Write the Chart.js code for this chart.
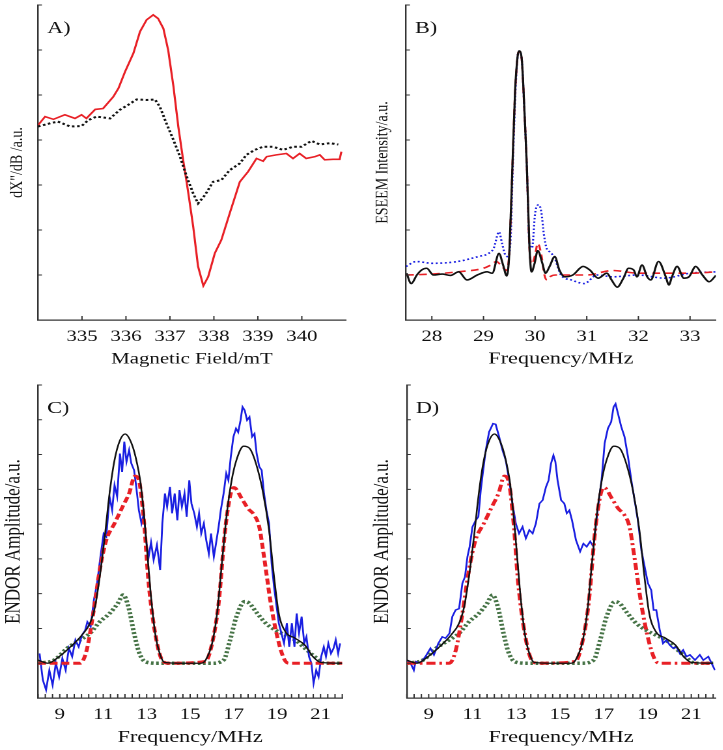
<!DOCTYPE html>
<html>
<head>
<meta charset="utf-8">
<script src="https://cdn.jsdelivr.net/npm/chart.js@4.4.1/dist/chart.umd.min.js"></script>
<style>
  body { margin: 0; background: #fff; }
  #page { position: relative; width: 723px; height: 750px; overflow: hidden; }
  .panel { position: absolute; transform: scaleX(1.3); transform-origin: 0 0; }
</style>
</head>
<body>
<div id="page">
  <div class="panel" style="left:0px;top:0px;width:278.5px;height:370px"><canvas id="chartA"></canvas></div>
  <div class="panel" style="left:362px;top:0px;width:277.7px;height:370px"><canvas id="chartB"></canvas></div>
  <div class="panel" style="left:0px;top:370px;width:278.5px;height:380px"><canvas id="chartC"></canvas></div>
  <div class="panel" style="left:362px;top:370px;width:277.7px;height:380px"><canvas id="chartD"></canvas></div>
</div>
<script>
// ---- A) EPR derivative spectra (field in mT)
var aRedField = [334.0,334.16,334.35,334.61,334.84,334.99,335.1,335.3,335.48,335.71,335.83,335.98,336.17,336.32,336.47,336.62,336.73,336.85,336.96,337.08,337.19,337.3,337.42,337.53,337.64,337.76,337.87,338.02,338.17,338.36,338.59,338.78,338.97,339.12,339.2,339.42,339.65,339.8,339.95,340.1,340.3,340.41,340.52,340.71,340.86,340.9];
var aRedVal = [4.33,4.52,4.46,4.56,4.48,4.56,4.48,4.68,4.70,4.96,5.15,5.52,5.93,6.41,6.67,6.78,6.70,6.48,6.0,5.19,4.30,3.56,2.81,2.07,1.19,0.76,0.96,1.48,1.78,2.37,3.07,3.30,3.59,3.53,3.63,3.67,3.70,3.59,3.70,3.59,3.63,3.67,3.56,3.57,3.57,3.74];
var aBlackField = [334.0,334.27,334.45,334.73,334.99,335.14,335.33,335.64,335.86,336.05,336.24,336.47,336.66,336.77,336.92,337.08,337.23,337.38,337.53,337.64,337.8,337.98,338.17,338.36,338.59,338.74,338.93,339.12,339.35,339.57,339.8,339.99,340.22,340.41,340.64,340.83];
var aBlackVal = [4.30,4.37,4.41,4.30,4.31,4.44,4.52,4.48,4.67,4.78,4.90,4.89,4.90,4.74,4.37,4.0,3.63,3.19,2.81,2.59,2.78,3.07,3.11,3.33,3.48,3.67,3.78,3.85,3.85,3.78,3.85,3.85,3.98,3.90,3.93,3.90];
var aTicks = [335, 336, 337, 338, 339, 340];

// ---- B) ESEEM spectra (MHz)
var bBlackFreq = [27.51,27.6,27.71,27.8,27.9,28.03,28.2,28.36,28.52,28.68,28.88,29.07,29.17,29.3,29.38,29.45,29.5,29.56,29.61,29.66,29.69,29.74,29.79,29.84,29.89,29.93,29.99,30.05,30.14,30.2,30.28,30.38,30.47,30.57,30.73,30.93,31.06,31.22,31.39,31.48,31.59,31.71,31.81,31.91,31.97,32.07,32.17,32.24,32.39,32.53,32.59,32.65,32.75,32.88,32.98,33.11,33.24,33.37,33.5];
var bBlackVal = [1.04,0.81,1.0,1.11,1.15,1.0,1.02,0.99,1.07,0.89,1.0,1.07,1.04,1.48,1.22,0.98,1.48,3.41,5.04,5.85,5.98,5.81,4.74,3.41,1.63,1.07,1.26,1.54,1.26,1.04,1.19,1.41,1.11,0.96,1.0,1.19,1.11,0.93,1.04,0.89,0.73,0.93,1.15,1.11,0.96,1.22,0.96,0.89,1.30,0.96,0.78,0.96,1.19,0.93,0.96,1.19,1.0,0.85,0.99];
var bRedFreq = [27.5,28.0,28.5,29.0,29.14,29.25,29.35,29.45,29.5,29.56,29.61,29.66,29.69,29.74,29.79,29.84,29.89,29.94,30.0,30.05,30.12,30.18,30.23,30.3,30.4,30.6,31.0,31.5,32.0,32.5,33.0,33.5];
var bRedVal = [1.0,1.02,1.07,1.15,1.22,1.3,1.2,1.1,1.5,3.4,5.0,5.85,5.97,5.8,4.7,3.4,1.6,1.25,1.45,1.70,1.45,1.0,0.89,0.97,1.0,1.0,1.0,1.1,1.04,1.04,1.04,1.07];
var bBlueFreq = [27.5,27.7,28.0,28.5,28.9,29.1,29.2,29.3,29.36,29.42,29.47,29.52,29.57,29.62,29.66,29.69,29.74,29.79,29.84,29.89,29.94,30.0,30.07,30.12,30.17,30.22,30.3,30.38,30.5,30.7,30.95,31.2,31.5,32.0,32.5,33.0,33.5];
var bBlueVal = [1.19,1.30,1.26,1.30,1.41,1.48,1.6,1.96,1.7,1.45,1.41,1.7,3.5,5.1,5.85,5.97,5.8,4.7,3.4,1.7,1.6,2.37,2.56,2.4,1.9,1.6,1.5,1.37,1.0,0.89,0.81,1.0,0.96,1.0,0.93,1.04,1.07];
var bTicks = [28, 29, 30, 31, 32, 33];

// ---- C) and D) ENDOR: simulations (shared) and experiments
var simBlackFreq = [8.0,8.45,8.97,9.49,10.02,10.39,10.62,10.84,11.07,11.29,11.52,11.77,12.01,12.27,12.49,12.72,12.94,13.17,13.39,13.62,13.84,14.5,15.5,15.71,16.01,16.24,16.46,16.69,16.91,17.13,17.46,17.73,18.03,18.33,18.63,18.86,19.08,19.38,19.83,20.28,20.65,21.03,22.0];
var simBlackVal = [1.09,1.0,1.19,1.47,1.81,2.15,2.62,3.49,4.64,5.88,6.84,7.41,7.59,7.37,6.93,6.17,4.83,3.10,1.86,1.24,1.02,1.0,1.0,1.09,1.57,2.43,3.87,5.31,6.26,6.84,7.24,7.18,6.74,5.98,4.83,3.49,2.43,1.91,1.72,1.52,1.19,1.02,1.0];
var simRedFreq = [8.0,9.94,10.24,10.54,10.84,11.14,11.52,11.89,12.19,12.46,12.64,12.87,13.09,13.39,13.7,14.0,15.7,16.01,16.31,16.61,16.91,17.02,17.37,17.66,17.95,18.18,18.4,18.71,19.01,19.31,19.53,22.0];
var simRedVal = [1.0,1.0,1.38,2.43,3.68,4.54,5.02,5.50,5.88,6.38,6.26,5.11,3.30,1.86,1.1,1.0,1.05,1.57,2.72,4.83,5.98,6.05,5.74,5.45,5.26,4.92,4.06,2.72,1.76,1.14,1.0,1.0];
var simGreenFreq = [8.0,8.74,9.34,9.94,10.39,10.84,11.29,11.67,11.92,12.16,12.42,12.64,12.94,13.5,16.0,16.54,16.84,17.13,17.51,17.73,18.03,18.48,18.93,19.38,19.83,20.28,20.73,21.18,22.0];
var simGreenVal = [1.0,1.09,1.43,1.67,1.86,2.19,2.43,2.72,2.96,2.62,1.86,1.33,1.04,1.0,1.0,1.09,1.67,2.34,2.77,2.72,2.48,2.15,1.95,1.81,1.67,1.43,1.19,1.0,1.0];
var cExpFreq = [8.07,8.22,8.37,8.52,8.67,8.82,8.97,9.12,9.27,9.42,9.57,9.72,9.87,10.02,10.17,10.27,10.42,10.57,10.72,10.87,11.02,11.14,11.29,11.41,11.52,11.64,11.77,11.87,11.97,12.07,12.19,12.29,12.42,12.52,12.64,12.76,12.87,12.97,13.09,13.2,13.32,13.47,13.62,13.72,13.84,13.94,14.07,14.17,14.29,14.41,14.51,14.62,14.74,14.84,14.96,15.06,15.19,15.31,15.41,15.51,15.63,15.74,15.86,15.96,16.09,16.19,16.31,16.41,16.54,16.66,16.76,16.87,16.99,17.11,17.21,17.32,17.41,17.51,17.62,17.73,17.85,17.96,18.06,18.18,18.29,18.4,18.51,18.63,18.75,18.86,18.96,19.08,19.2,19.32,19.45,19.56,19.68,19.8,19.9,20.01,20.13,20.25,20.35,20.47,20.58,20.68,20.8,20.91,21.03,21.15,21.25,21.36,21.48,21.6,21.7,21.81,21.9];
var cExpVal = [1.28,0.52,0.23,0.80,0.37,1.0,0.61,1.14,0.80,1.43,1.19,1.67,1.47,1.81,1.95,2.19,2.05,2.82,3.30,4.06,4.73,4.64,5.79,5.40,6.12,5.79,7.03,6.50,7.37,6.79,7.13,6.75,6.55,6.07,5.40,5.02,5.31,4.54,4.06,4.48,3.97,4.40,3.68,5.02,5.88,5.50,6.07,5.31,5.88,5.11,5.98,5.50,5.88,5.21,6.26,5.59,5.31,4.92,5.31,4.73,5.02,4.54,4.15,4.73,4.06,4.44,4.92,5.40,5.88,6.46,6.26,6.93,7.51,7.75,7.64,7.99,8.37,8.27,7.99,8.08,7.51,7.60,7.03,6.65,6.55,5.88,5.40,5.02,3.87,3.20,2.72,2.15,1.86,1.57,2.15,1.47,2.15,1.47,2.43,1.86,2.34,1.57,1.76,1.19,1.0,0.42,0.80,0.61,1.19,1.47,1.19,1.57,1.28,1.43,1.67,1.28,1.57];
var dExpFreq = [8.01,8.17,8.32,8.40,8.62,8.85,9.08,9.24,9.44,9.62,9.77,9.95,10.08,10.23,10.39,10.54,10.66,10.77,10.87,11.0,11.15,11.27,11.38,11.49,11.61,11.76,11.94,12.06,12.22,12.37,12.52,12.68,12.83,12.98,13.13,13.29,13.44,13.6,13.75,13.9,14.06,14.21,14.36,14.48,14.59,14.7,14.79,14.89,15.05,15.2,15.31,15.43,15.55,15.73,15.92,16.07,16.22,16.38,16.53,16.65,16.78,16.9,17.04,17.19,17.34,17.45,17.54,17.65,17.8,17.95,18.11,18.26,18.41,18.56,18.72,18.87,19.02,19.17,19.28,19.4,19.56,19.71,19.86,20.02,20.17,20.32,20.48,20.63,20.78,20.94,21.17,21.39,21.55,21.78,21.93,22.08];
var dExpVal = [1.09,1.0,0.80,1.05,1.0,1.19,1.43,1.24,1.57,1.76,1.72,1.86,2.34,2.53,2.57,3.30,3.49,4.06,4.35,4.92,5.11,5.21,5.98,6.55,7.13,7.65,7.89,7.87,7.51,7.13,6.84,6.26,5.59,5.02,4.73,4.92,4.59,4.83,4.73,5.02,5.59,5.69,6.07,6.26,6.74,6.98,6.79,6.26,5.69,5.59,5.31,5.40,5.11,4.54,4.21,4.44,4.35,4.50,4.35,5.02,5.69,6.26,7.32,7.75,7.94,8.37,8.46,8.18,7.80,7.51,6.93,6.26,5.69,5.11,4.25,3.77,3.30,3.10,2.53,2.53,1.95,1.57,1.67,1.52,1.43,1.47,1.28,1.38,1.19,1.24,1.09,1.24,1.09,1.19,1.0,0.8];
var endorLabels = [9, 11, 13, 15, 17, 19, 21];

var RED = 'rgb(232,32,38)', BLUE = 'rgb(25,30,225)', GREEN = 'rgb(70,115,70)', BLACK = '#111';

Chart.defaults.font.family = '"Liberation Serif", "Times New Roman", serif';
Chart.defaults.color = '#111';

function pts(xs, ys) {
  return xs.map(function (x, i) { return { x: x, y: ys[i] }; });
}

function series(xs, ys, color, width, dash, smooth, order) {
  return {
    data: pts(xs, ys),
    borderColor: color,
    borderWidth: width,
    borderDash: dash,
    pointRadius: 0,
    fill: false,
    order: order,
    cubicInterpolationMode: smooth ? 'monotone' : 'default',
    tension: 0
  };
}

// inward tick marks and the panel letter
var frame = {
  id: 'frame',
  afterDatasetsDraw: function (chart, args, opts) {
    var ctx = chart.ctx, a = chart.chartArea, x = chart.scales.x, y = chart.scales.y;
    ctx.save();
    ctx.strokeStyle = '#333';
    ctx.lineWidth = 1;
    ctx.beginPath();
    x.ticks.forEach(function (t) {
      var p = x.getPixelForValue(t.value);
      ctx.moveTo(p, a.bottom); ctx.lineTo(p, a.bottom - 4);
    });
    y.ticks.forEach(function (t) {
      var p = y.getPixelForValue(t.value);
      ctx.moveTo(a.left, p); ctx.lineTo(a.left + 3, p);
    });
    ctx.stroke();
    ctx.fillStyle = '#111';
    ctx.font = '17px "Liberation Serif", serif';
    ctx.textBaseline = 'alphabetic';
    ctx.fillText(opts.tag, a.left + 7, a.top + 28);
    ctx.restore();
  }
};

function panel(id, p) {
  new Chart(document.getElementById(id), {
    type: 'line',
    data: { datasets: p.datasets },
    plugins: [frame],
    options: {
      animation: false,
      responsive: true,
      maintainAspectRatio: false,
      devicePixelRatio: 2,
      layout: { padding: { top: p.top, right: p.right, left: 0, bottom: 0 } },
      plugins: { legend: { display: false }, tooltip: { enabled: false }, frame: { tag: p.tag } },
      scales: {
        x: {
          type: 'linear',
          min: p.xmin, max: p.xmax,
          grid: { display: false, drawTicks: false },
          border: { display: true, color: '#333', width: 1.2 },
          afterBuildTicks: function (s) { s.ticks = p.xticks.map(function (v) { return { value: v }; }); },
          afterFit: function (s) { s.height = p.xh; },
          ticks: {
            autoSkip: false, maxRotation: 0, padding: p.tickPad,
            font: { size: 16 },
            callback: p.xlabel
          },
          title: { display: true, text: p.xtitle, font: { size: p.xtSize }, padding: { top: 0, bottom: p.xtPad } }
        },
        y: {
          min: 0, max: p.ymax,
          grid: { display: false, drawTicks: false },
          border: { display: true, color: '#333', width: 1.2 },
          ticks: { display: false, stepSize: 1 },
          afterFit: function (s) { s.width = p.yw; },
          title: { display: true, text: p.ytitle, font: { size: p.ytSize }, padding: { top: p.ytPad, bottom: 0 } }
        }
      }
    }
  });
}

function plainLabel(v) { return String(Math.round(v)); }
function endorLabel(v) {
  var hit = endorLabels.some(function (l) { return Math.abs(l - v) < 1e-6; });
  return hit ? String(Math.round(v)) : '';
}
var endorTicks = [];
for (var i = 0; i <= 42; i++) endorTicks.push(8 + i / 3);

function simSets(redDash) {
  return [
    series(simBlackFreq, simBlackVal, BLACK, 1.3, [], true, 0),
    series(simRedFreq, simRedVal, RED, 3, redDash, true, 1),
    series(simGreenFreq, simGreenVal, GREEN, 3.5, [2, 2], true, 3)
  ];
}

panel('chartA', {
  tag: 'A)', top: 5, right: 13, yw: 29.2, xh: 50, ymax: 7,
  xmin: 334, xmax: 341, xticks: aTicks, xlabel: plainLabel, tickPad: 7,
  xtitle: 'Magnetic Field/mT', xtSize: 16, xtPad: 1,
  ytitle: 'dX"/dB /a.u.', ytSize: 14, ytPad: 5,
  datasets: [
    series(aRedField, aRedVal, RED, 1.6, [], false, 1),
    series(aBlackField, aBlackVal, BLACK, 2, [2, 2], false, 0)
  ]
});

panel('chartB', {
  tag: 'B)', top: 5, right: 6, yw: 33.8, xh: 50, ymax: 7,
  xmin: 27.5, xmax: 33.5, xticks: bTicks, xlabel: plainLabel, tickPad: 7,
  xtitle: 'Frequency/MHz', xtSize: 17, xtPad: 1,
  ytitle: 'ESEEM Intensity/a.u.', ytSize: 14, ytPad: 7.5,
  datasets: [
    series(bBlackFreq, bBlackVal, BLACK, 1.6, [], true, 0),
    series(bRedFreq, bRedVal, RED, 1.6, [6, 4], true, 1),
    series(bBlueFreq, bBlueVal, BLUE, 1.6, [1.5, 2], true, 2)
  ]
});

panel('chartC', {
  tag: 'C)', top: 15, right: 15.7, yw: 29.2, xh: 52, ymax: 9,
  xmin: 8, xmax: 22, xticks: endorTicks, xlabel: endorLabel, tickPad: 7,
  xtitle: 'Frequency/MHz', xtSize: 17, xtPad: 2.5,
  ytitle: 'ENDOR Amplitude/a.u.', ytSize: 17, ytPad: 0.5,
  datasets: simSets([6, 3]).concat([series(cExpFreq, cExpVal, BLUE, 1.4, [], false, 2)])
});

panel('chartD', {
  tag: 'D)', top: 15, right: 6.4, yw: 34.4, xh: 52, ymax: 9,
  xmin: 8, xmax: 22.1, xticks: endorTicks, xlabel: endorLabel, tickPad: 7,
  xtitle: 'Frequency/MHz', xtSize: 17, xtPad: 2.5,
  ytitle: 'ENDOR Amplitude/a.u.', ytSize: 17, ytPad: 5.5,
  datasets: simSets([7, 3, 2, 3]).concat([series(dExpFreq, dExpVal, BLUE, 1.4, [], false, 2)])
});
</script>
</body>
</html>
